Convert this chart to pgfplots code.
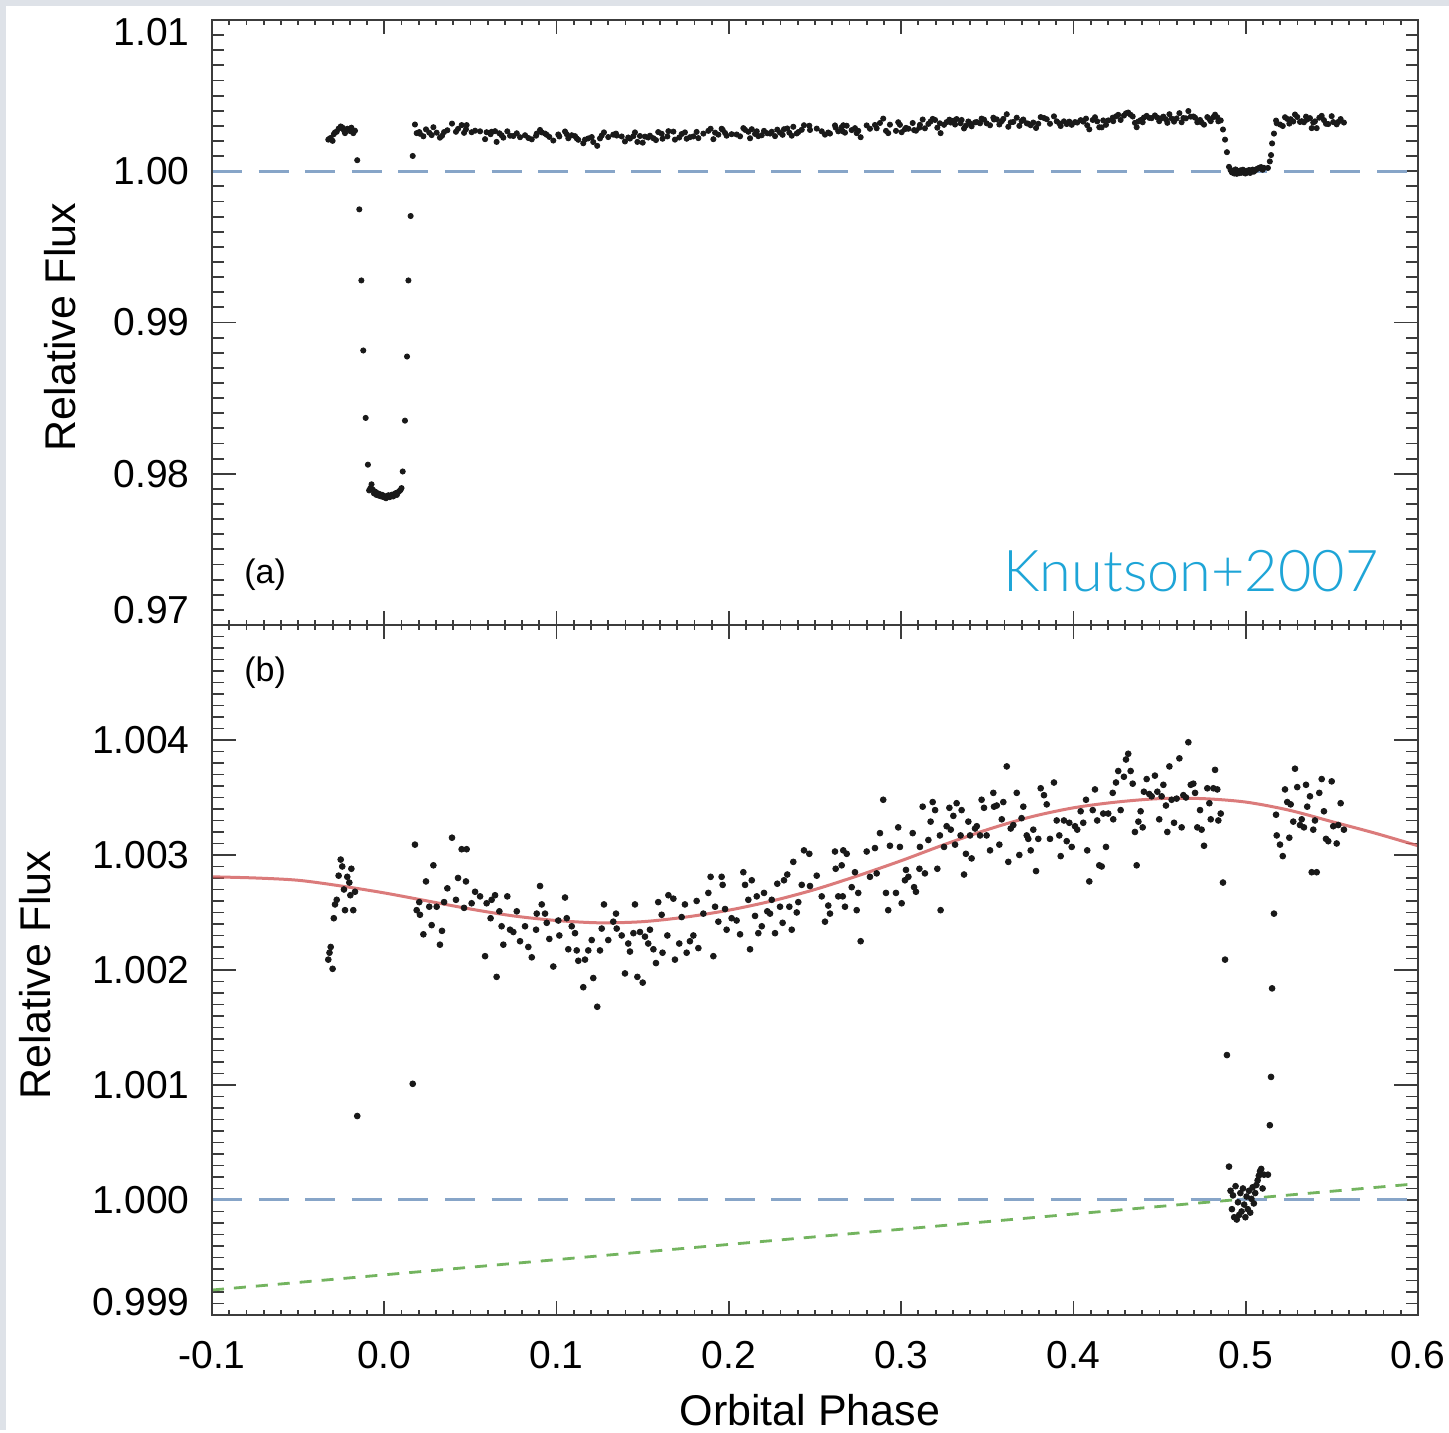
\documentclass[border=0pt]{standalone}
\usepackage{fontspec}
\setmainfont{Liberation Sans}
\newfontfamily\kfont{Lato Light}
\usepackage{pgfplots}
\usepackage{pgfplotstable}
\pgfplotsset{compat=1.18}
\definecolor{bgc}{RGB}{222,226,232}
\definecolor{axc}{RGB}{60,60,60}
\definecolor{dashblue}{RGB}{135,165,200}
\definecolor{modred}{RGB}{210,90,90}
\definecolor{dashgreen}{RGB}{115,180,95}
\definecolor{kcyan}{RGB}{30,165,215}

\pgfplotstableread{
x y
-0.0325 1.00209
-0.0318 1.00215
-0.0311 1.00220
-0.0300 1.00201
-0.0293 1.00245
-0.0286 1.00257
-0.0276 1.00261
-0.0265 1.00282
-0.0253 1.00296
-0.0244 1.00290
-0.0234 1.00270
-0.0228 1.00252
-0.0215 1.00281
-0.0203 1.00276
-0.0197 1.00265
-0.0191 1.00288
-0.0180 1.00252
-0.0170 1.00268
-0.0157 1.00073
-0.0145 0.99748
-0.0133 0.99278
-0.0122 0.98815
-0.0108 0.98369
-0.0095 0.98060
-0.0088 0.97890
-0.0081 0.97905
-0.0074 0.97930
-0.0067 0.97895
-0.0060 0.97870
-0.0053 0.97882
-0.0046 0.97860
-0.0039 0.97872
-0.0032 0.97855
-0.0025 0.97865
-0.0018 0.97850
-0.0011 0.97860
-0.0004 0.97845
0.0003 0.97852
0.0010 0.97838
0.0017 0.97850
0.0024 0.97858
0.0031 0.97845
0.0038 0.97855
0.0045 0.97862
0.0052 0.97850
0.0059 0.97865
0.0066 0.97872
0.0073 0.97860
0.0080 0.97878
0.0087 0.97885
0.0094 0.97892
0.0100 0.97905
0.0107 0.98015
0.0120 0.98351
0.0132 0.98775
0.0140 0.99278
0.0153 0.99704
0.0165 1.00101
0.0178 1.00309
0.0188 1.00252
0.0203 1.00259
0.0207 1.00248
0.0227 1.00231
0.0242 1.00277
0.0261 1.00255
0.0275 1.00239
0.0285 1.00291
0.0304 1.00255
0.0323 1.00222
0.0335 1.00234
0.0347 1.00259
0.0366 1.00271
0.0393 1.00315
0.0416 1.00261
0.0428 1.00280
0.0449 1.00305
0.0463 1.00254
0.0474 1.00277
0.0478 1.00305
0.0507 1.00258
0.0527 1.00268
0.0556 1.00264
0.0585 1.00212
0.0594 1.00258
0.0617 1.00245
0.0623 1.00261
0.0643 1.00265
0.0652 1.00194
0.0668 1.00251
0.0681 1.00238
0.0691 1.00222
0.0714 1.00264
0.0730 1.00235
0.0749 1.00233
0.0769 1.00251
0.0788 1.00225
0.0817 1.00238
0.0836 1.00220
0.0856 1.00211
0.0881 1.00235
0.0885 1.00249
0.0904 1.00273
0.0914 1.00257
0.0933 1.00249
0.0943 1.00241
0.0958 1.00227
0.0981 1.00203
0.1010 1.00243
0.1016 1.00230
0.1049 1.00263
0.1059 1.00245
0.1068 1.00218
0.1088 1.00238
0.1107 1.00232
0.1117 1.00217
0.1126 1.00208
0.1155 1.00185
0.1165 1.00209
0.1184 1.00217
0.1204 1.00226
0.1213 1.00193
0.1236 1.00168
0.1252 1.00217
0.1262 1.00236
0.1275 1.00257
0.1300 1.00226
0.1329 1.00242
0.1345 1.00249
0.1349 1.00236
0.1378 1.00230
0.1397 1.00197
0.1416 1.00223
0.1426 1.00216
0.1446 1.00232
0.1455 1.00257
0.1469 1.00194
0.1484 1.00233
0.1500 1.00189
0.1513 1.00229
0.1532 1.00223
0.1542 1.00235
0.1562 1.00218
0.1577 1.00206
0.1590 1.00259
0.1610 1.00248
0.1615 1.00215
0.1643 1.00230
0.1649 1.00265
0.1678 1.00262
0.1687 1.00209
0.1712 1.00223
0.1726 1.00246
0.1745 1.00257
0.1755 1.00215
0.1774 1.00225
0.1794 1.00230
0.1813 1.00260
0.1823 1.00219
0.1852 1.00249
0.1881 1.00267
0.1894 1.00281
0.1910 1.00212
0.1920 1.00255
0.1939 1.00242
0.1958 1.00281
0.1964 1.00274
0.1978 1.00253
0.1987 1.00235
0.2016 1.00245
0.2045 1.00243
0.2065 1.00231
0.2084 1.00285
0.2094 1.00274
0.2113 1.00261
0.2123 1.00218
0.2133 1.00278
0.2152 1.00247
0.2162 1.00264
0.2171 1.00232
0.2191 1.00238
0.2204 1.00267
0.2223 1.00251
0.2239 1.00249
0.2249 1.00261
0.2268 1.00232
0.2281 1.00275
0.2297 1.00255
0.2312 1.00241
0.2320 1.00278
0.2339 1.00283
0.2351 1.00255
0.2365 1.00235
0.2374 1.00294
0.2394 1.00250
0.2403 1.00259
0.2423 1.00274
0.2436 1.00304
0.2467 1.00301
0.2471 1.00273
0.2510 1.00282
0.2539 1.00264
0.2558 1.00242
0.2577 1.00256
0.2587 1.00249
0.2616 1.00303
0.2620 1.00288
0.2635 1.00264
0.2655 1.00291
0.2661 1.00264
0.2664 1.00304
0.2674 1.00255
0.2684 1.00301
0.2713 1.00272
0.2732 1.00285
0.2742 1.00252
0.2751 1.00267
0.2765 1.00225
0.2800 1.00303
0.2819 1.00281
0.2848 1.00306
0.2858 1.00284
0.2877 1.00319
0.2896 1.00348
0.2912 1.00267
0.2925 1.00252
0.2935 1.00308
0.2970 1.00267
0.2983 1.00324
0.2993 1.00307
0.3003 1.00258
0.3022 1.00278
0.3028 1.00287
0.3042 1.00281
0.3067 1.00319
0.3075 1.00272
0.3086 1.00268
0.3106 1.00288
0.3109 1.00307
0.3125 1.00342
0.3138 1.00284
0.3158 1.00313
0.3171 1.00329
0.3183 1.00346
0.3197 1.00339
0.3210 1.00288
0.3225 1.00317
0.3229 1.00252
0.3249 1.00307
0.3264 1.00325
0.3280 1.00341
0.3288 1.00322
0.3303 1.00334
0.3313 1.00309
0.3322 1.00345
0.3345 1.00317
0.3351 1.00339
0.3365 1.00283
0.3376 1.00301
0.3390 1.00329
0.3400 1.00317
0.3409 1.00297
0.3429 1.00323
0.3439 1.00325
0.3458 1.00317
0.3467 1.00348
0.3481 1.00341
0.3496 1.00317
0.3516 1.00304
0.3535 1.00354
0.3539 1.00342
0.3555 1.00343
0.3570 1.00309
0.3584 1.00331
0.3593 1.00346
0.3613 1.00377
0.3622 1.00294
0.3636 1.00323
0.3651 1.00326
0.3671 1.00354
0.3686 1.00300
0.3699 1.00332
0.3709 1.00342
0.3729 1.00317
0.3738 1.00314
0.3752 1.00304
0.3767 1.00322
0.3783 1.00286
0.3796 1.00314
0.3810 1.00358
0.3829 1.00352
0.3845 1.00344
0.3864 1.00314
0.3887 1.00363
0.3903 1.00330
0.3918 1.00317
0.3926 1.00299
0.3945 1.00330
0.3961 1.00312
0.3976 1.00328
0.3990 1.00307
0.4009 1.00325
0.4022 1.00322
0.4042 1.00338
0.4057 1.00328
0.4073 1.00348
0.4080 1.00304
0.4092 1.00277
0.4112 1.00339
0.4125 1.00357
0.4138 1.00330
0.4150 1.00291
0.4164 1.00290
0.4173 1.00336
0.4189 1.00307
0.4202 1.00336
0.4228 1.00354
0.4231 1.00331
0.4247 1.00363
0.4260 1.00373
0.4274 1.00339
0.4293 1.00368
0.4305 1.00383
0.4318 1.00388
0.4332 1.00373
0.4344 1.00362
0.4357 1.00320
0.4367 1.00291
0.4377 1.00329
0.4390 1.00338
0.4402 1.00324
0.4409 1.00355
0.4425 1.00366
0.4440 1.00353
0.4454 1.00351
0.4473 1.00369
0.4487 1.00355
0.4498 1.00331
0.4512 1.00351
0.4522 1.00361
0.4537 1.00343
0.4545 1.00320
0.4557 1.00377
0.4570 1.00348
0.4584 1.00328
0.4599 1.00349
0.4615 1.00384
0.4628 1.00324
0.4638 1.00352
0.4653 1.00350
0.4667 1.00398
0.4681 1.00361
0.4696 1.00362
0.4706 1.00354
0.4719 1.00324
0.4735 1.00339
0.4744 1.00322
0.4758 1.00308
0.4777 1.00358
0.4789 1.00345
0.4797 1.00331
0.4812 1.00358
0.4822 1.00374
0.4835 1.00357
0.4841 1.00330
0.4855 1.00336
0.4868 1.00276
0.4880 1.00209
0.4891 1.00126
0.4903 1.00029
0.4912 1.00008
0.4920 0.99992
0.4926 1.00004
0.4933 0.99985
0.4941 1.00012
0.4948 0.99983
0.4955 0.99998
0.4962 0.99987
0.4969 1.00006
0.4976 0.99990
0.4984 1.00010
0.4991 0.99996
0.4998 0.99985
0.5005 1.00003
0.5012 0.99992
0.5019 1.00008
0.5026 0.99989
0.5033 1.00001
0.5040 1.00011
0.5047 0.99997
0.5055 1.00006
0.5062 1.00013
0.5069 1.00017
0.5076 1.00021
0.5083 1.00025
0.5090 1.00027
0.5098 1.00010
0.5106 1.00022
0.5129 1.00022
0.5140 1.00065
0.5147 1.00107
0.5153 1.00184
0.5164 1.00249
0.5176 1.00335
0.5180 1.00317
0.5199 1.00309
0.5215 1.00299
0.5228 1.00357
0.5241 1.00346
0.5253 1.00315
0.5261 1.00344
0.5276 1.00329
0.5286 1.00375
0.5299 1.00359
0.5315 1.00326
0.5325 1.00331
0.5338 1.00324
0.5350 1.00361
0.5357 1.00342
0.5373 1.00351
0.5383 1.00285
0.5392 1.00322
0.5402 1.00330
0.5412 1.00285
0.5427 1.00354
0.5441 1.00366
0.5454 1.00338
0.5466 1.00314
0.5479 1.00312
0.5499 1.00364
0.5508 1.00325
0.5528 1.00310
0.5537 1.00326
0.5551 1.00345
0.5570 1.00322
}\obs

\pgfplotstableread{
x y
-0.100 1.00281
-0.075 1.00280
-0.050 1.00278
-0.025 1.00273
0.000 1.00267
0.025 1.00260
0.050 1.00253
0.075 1.00247
0.100 1.00243
0.125 1.00241
0.150 1.00242
0.175 1.00246
0.200 1.00252
0.225 1.00260
0.250 1.00270
0.275 1.00282
0.300 1.00295
0.325 1.00309
0.350 1.00322
0.375 1.00333
0.400 1.00341
0.425 1.00346
0.450 1.00349
0.475 1.00349
0.500 1.00346
0.525 1.00339
0.550 1.00329
0.575 1.00319
0.600 1.00308
}\model

\newcommand{\tickfont}{\fontsize{19.5}{20}\selectfont}
\newcommand{\labfont}{\fontsize{21.5}{24}\selectfont}

\pgfplotsset{
  panel/.style={
    scale only axis, width=603pt, xmin=-0.1, xmax=0.6,
    axis line style={axc, line width=1.1pt},
    tick style={axc, line width=0.9pt},
    tick align=inside,
    /pgf/number format/assume math mode=true,
    tick label style={font=\tickfont, inner sep=0pt},
    clip=true,
  },
  yonly/.style={xtick=\empty, major tick length=12pt, minor tick length=6pt,
    minor y tick num=9, yticklabel style={anchor=east, xshift=-11pt}},
  xonly/.style={ytick=\empty, xtick={-0.1,0,0.1,0.2,0.3,0.4,0.5,0.6},
    minor x tick num=9, major tick length=7pt, minor tick length=2.5pt},
}

\begin{document}
\begin{tikzpicture}[x=1pt,y=1pt]
\fill[bgc] (0,0) rectangle (724.5,715);
\fill[white] (3,0) rectangle (724.5,712);

% ---------- top panel ----------
\begin{axis}[panel, yonly, at={(106pt,402.5pt)}, anchor=south west, height=302.5pt,
  ymin=0.97, ymax=1.01,
  ytick={0.97,0.98,0.99,1.00,1.01}, yticklabels={,0.98,0.99,1.00,}]
  \addplot[only marks, mark=*, mark size=1.3pt, mark options={fill=black!90, draw=black!90}] table {\obs};
  \addplot[dashblue, line width=1.6pt, dash pattern=on 15pt off 8.3pt] coordinates {(-0.1,1) (0.6,1)};
\end{axis}
\begin{axis}[panel, xonly, at={(106pt,402.5pt)}, anchor=south west, height=302.5pt,
  ymin=0.97, ymax=1.01, xticklabels=\empty]
\end{axis}

% ---------- bottom panel ----------
\begin{axis}[panel, yonly, at={(106pt,57.5pt)}, anchor=south west, height=345pt,
  ymin=0.999, ymax=1.005,
  ytick={0.999,1.000,1.001,1.002,1.003,1.004,1.005},
  yticklabels={,1.000,1.001,1.002,1.003,1.004,}]
  \addplot[dashgreen, line width=1.4pt, dash pattern=on 6pt off 5pt] coordinates {(-0.1,0.999217) (0.6,1.000142)};
  \addplot[only marks, mark=*, mark size=1.45pt, mark options={fill=black!90, draw=black!90}] table {\obs};
  \addplot[modred, line width=1.5pt, opacity=0.8, smooth] table {\model};
  \addplot[dashblue, line width=1.5pt, dash pattern=on 15pt off 8.3pt] coordinates {(-0.1,1) (0.6,1)};
\end{axis}
\begin{axis}[panel, xonly, at={(106pt,57.5pt)}, anchor=south west, height=345pt,
  ymin=0.999, ymax=1.005,
  xticklabels={-0.1,0.0,0.1,0.2,0.3,0.4,0.5,0.6},
  xticklabel style={anchor=north, yshift=-13pt}]
\end{axis}

% ---------- labels ----------
\node[anchor=east, inner sep=0pt, font=\tickfont] at (95,699) {1.01};
\node[anchor=east, inner sep=0pt, font=\tickfont] at (95,410) {0.97};
\node[anchor=east, inner sep=0pt, font=\tickfont] at (95,64) {0.999};
\node[rotate=90, font=\labfont] at (30,551.5) {Relative Flux};
\node[rotate=90, font=\labfont] at (17.5,227.5) {Relative Flux};
\node[anchor=base, font=\labfont] at (405,2.5) {Orbital Phase};
\node[anchor=west, inner sep=0pt, font=\fontsize{17}{18}\selectfont] at (122,427.5) {(a)};
\node[anchor=west, inner sep=0pt, font=\fontsize{17}{18}\selectfont] at (122,378.5) {(b)};
\node[anchor=base west, inner sep=0pt, text=kcyan, font=\fontsize{28.8}{30}\kfont] at (501.5,419) {Knutson+2007};
\end{tikzpicture}
\end{document}
